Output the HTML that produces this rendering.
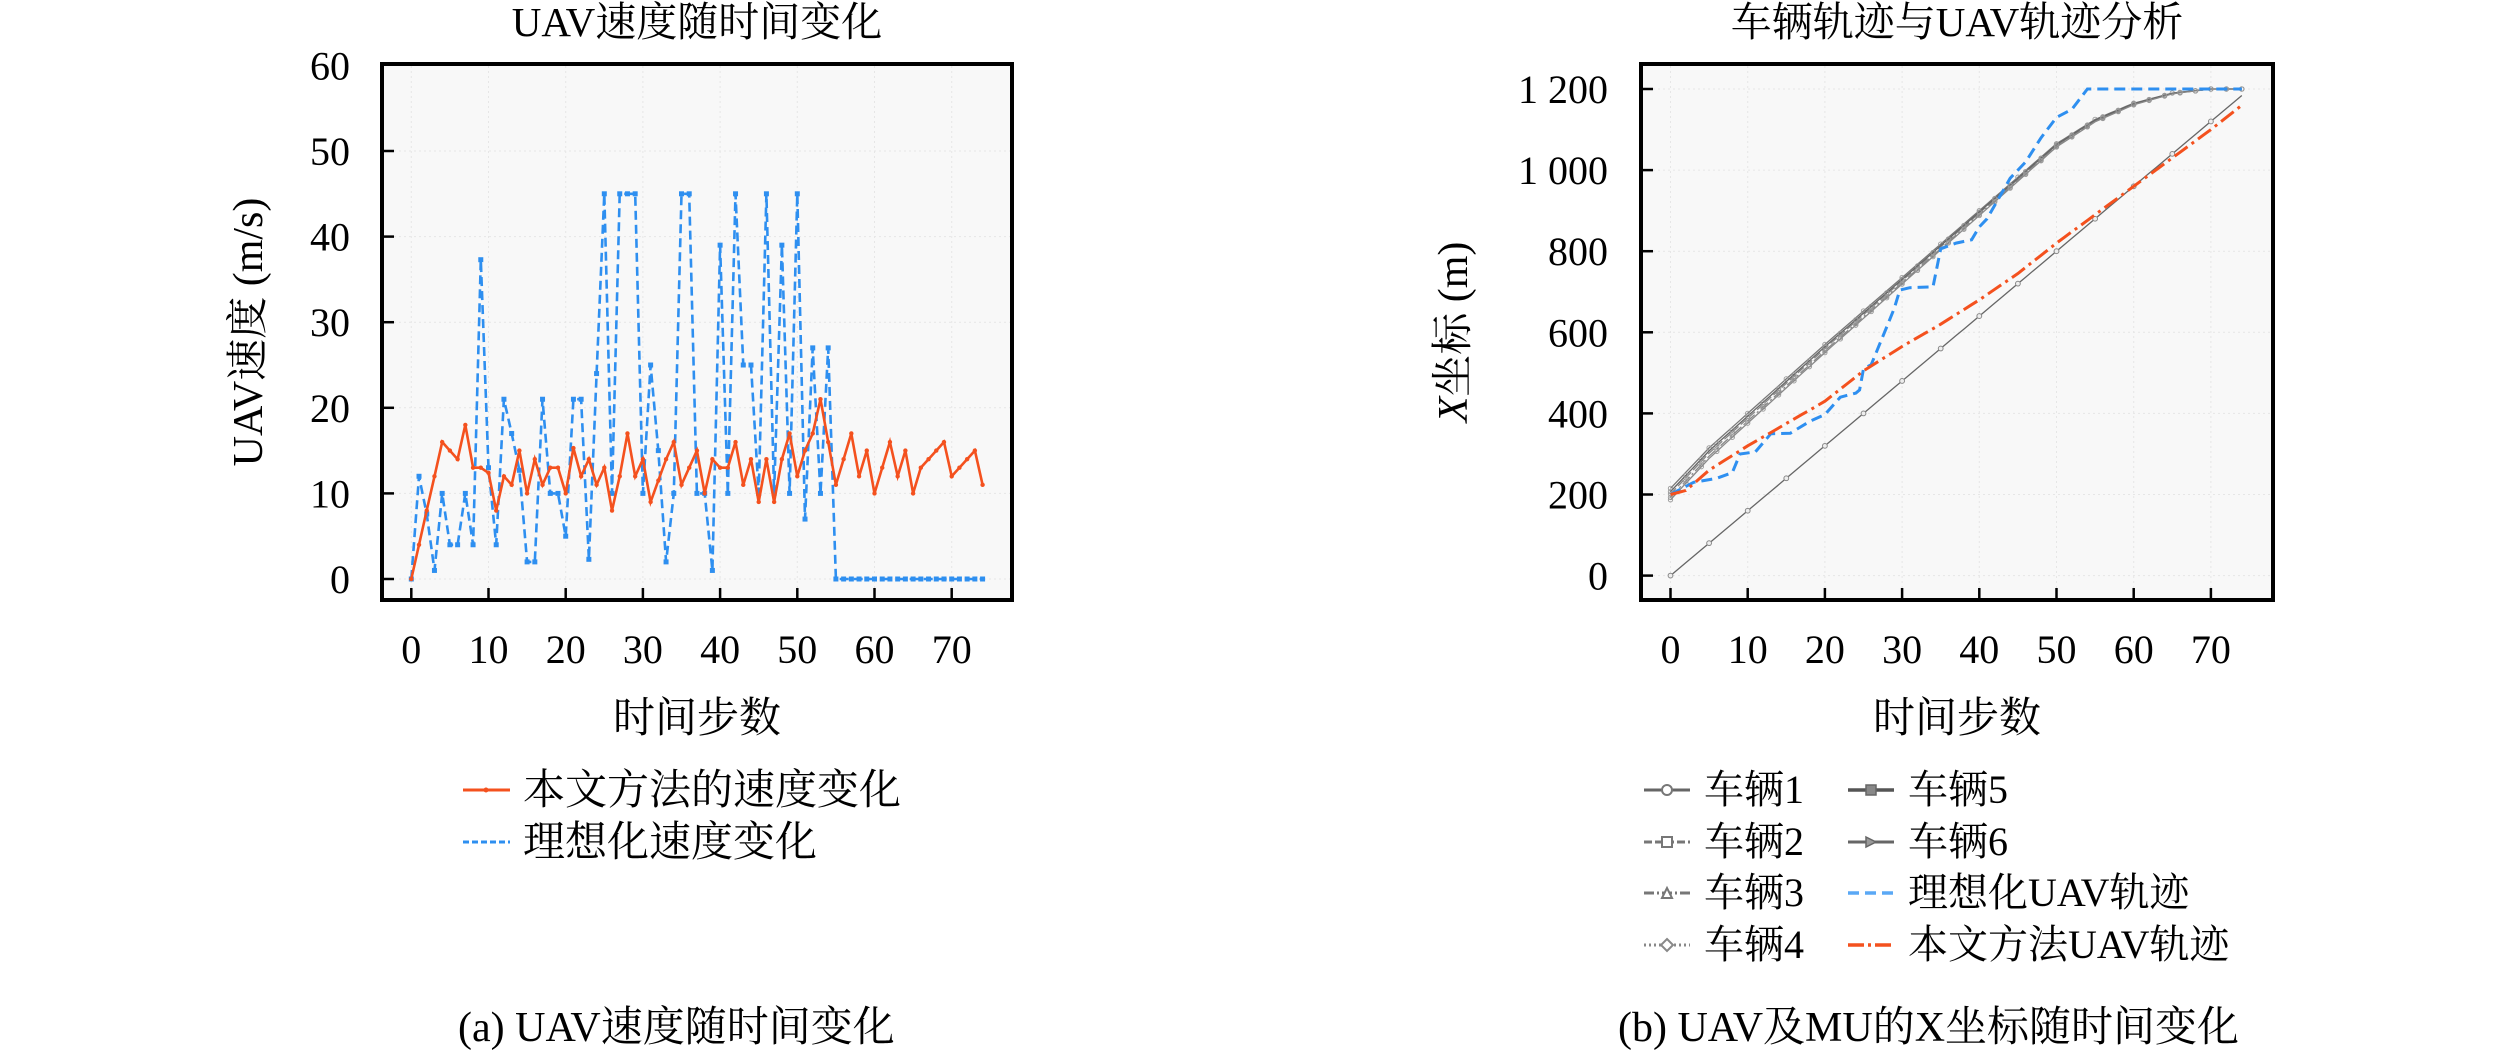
<!DOCTYPE html>
<html><head><meta charset="utf-8">
<style>
html,body{margin:0;padding:0;background:#fff;}
svg{display:block;}
text{font-family:"Liberation Serif","Noto Serif CJK SC","Noto Sans CJK SC",serif;fill:#000;}
</style></head>
<body>
<svg id="s" width="2520" height="1050" viewBox="0 0 2520 1050" xmlns="http://www.w3.org/2000/svg">
<rect x="0" y="0" width="2520" height="1050" fill="#fff"/>
<rect x="382" y="64" width="630" height="536" fill="#f8f8f8"/>
<g id="lgrid" stroke="#e6e6e6" stroke-width="1" stroke-dasharray="2,3"></g>
<g id="lplot"></g>
<rect x="382" y="64" width="630" height="536" fill="none" stroke="#000" stroke-width="4"/>
<g id="lticks" stroke="#000" stroke-width="2.5"></g>
<g id="llabels" font-size="40"></g>
<text x="697" y="36" font-size="41" text-anchor="middle">UAV速度随时间变化</text>
<text x="697" y="732" font-size="42" text-anchor="middle">时间步数</text>
<text transform="translate(262,332) rotate(-90)" font-size="42" text-anchor="middle">UAV速度 (m/s)</text>
<line x1="463" y1="790" x2="510" y2="790" stroke="#f4511e" stroke-width="3"/>
<circle cx="486" cy="790" r="2.5" fill="#f4511e"/>
<text x="523" y="804" font-size="42">本文方法的速度变化</text>
<line x1="463" y1="842" x2="510" y2="842" stroke="#2e8ff0" stroke-width="3" stroke-dasharray="6,3"/>
<text x="523" y="856" font-size="42">理想化速度变化</text>
<text x="458" y="1041" font-size="42">(a) UAV速度随时间变化</text>

<rect x="1641" y="64" width="632" height="536" fill="#f8f8f8"/>
<g id="rgrid" stroke="#e6e6e6" stroke-width="1" stroke-dasharray="2,3"></g>
<g id="rplot"></g>
<rect x="1641" y="64" width="632" height="536" fill="none" stroke="#000" stroke-width="4"/>
<g id="rticks" stroke="#000" stroke-width="2.5"></g>
<g id="rlabels" font-size="40"></g>
<text x="1957" y="36" font-size="41" text-anchor="middle">车辆轨迹与UAV轨迹分析</text>
<text x="1957" y="732" font-size="42" text-anchor="middle">时间步数</text>
<text transform="translate(1467,332) rotate(-90)" font-size="42" text-anchor="middle"><tspan font-style="italic">X</tspan>坐标 (m)</text>
<g font-size="40">
<line x1="1644" y1="790" x2="1690" y2="790" stroke="#666" stroke-width="3"/><circle cx="1667" cy="790" r="5" fill="#fff" stroke="#777" stroke-width="2"/>
<text x="1704" y="803">车辆1</text>
<line x1="1644" y1="842" x2="1690" y2="842" stroke="#777" stroke-width="3" stroke-dasharray="8,3"/><rect x="1662" y="837" width="10" height="10" fill="#fff" stroke="#777" stroke-width="2"/>
<text x="1704" y="855">车辆2</text>
<line x1="1644" y1="893" x2="1690" y2="893" stroke="#777" stroke-width="3" stroke-dasharray="10,3,2,3"/><path d="M1662,898 L1667,888 L1672,898Z" fill="#fff" stroke="#777" stroke-width="2"/>
<text x="1704" y="906">车辆3</text>
<line x1="1644" y1="945" x2="1690" y2="945" stroke="#888" stroke-width="3" stroke-dasharray="2,3"/><path d="M1667,939 L1673,945 L1667,951 L1661,945Z" fill="#fff" stroke="#888" stroke-width="2"/>
<text x="1704" y="958">车辆4</text>
<line x1="1848" y1="790" x2="1894" y2="790" stroke="#555" stroke-width="3.5"/><rect x="1866" y="785" width="10" height="10" fill="#888" stroke="#666" stroke-width="1.5"/>
<text x="1908" y="803">车辆5</text>
<line x1="1848" y1="842" x2="1894" y2="842" stroke="#666" stroke-width="3"/><path d="M1866,837 L1876,842 L1866,847Z" fill="#999" stroke="#666" stroke-width="1.5"/>
<text x="1908" y="855">车辆6</text>
<line x1="1848" y1="893" x2="1894" y2="893" stroke="#5aa8f5" stroke-width="3.5" stroke-dasharray="11,6"/>
<text x="1908" y="906">理想化UAV轨迹</text>
<line x1="1848" y1="945" x2="1894" y2="945" stroke="#f4511e" stroke-width="3.5" stroke-dasharray="16,4,3,4"/>
<text x="1908" y="958">本文方法UAV轨迹</text>
</g>
<text x="1618" y="1041" font-size="42">(b) UAV及MU的X坐标随时间变化</text>
</svg>
<script>
var NS="http://www.w3.org/2000/svg";
function el(p,tag,a,txt){var e=document.createElementNS(NS,tag);for(var k in a)e.setAttribute(k,a[k]);if(txt!==undefined)e.textContent=txt;document.getElementById(p).appendChild(e);return e;}
function lx(t){return 411.3+7.72*t;}
function ly(v){return 579-8.56*v;}
for(var t=0;t<=70;t+=10){
 el("lgrid","line",{x1:lx(t),y1:66,x2:lx(t),y2:598});
 el("lticks","line",{x1:lx(t),y1:600,x2:lx(t),y2:588});
 el("llabels","text",{x:lx(t),y:663,"text-anchor":"middle"},String(t));
}
for(var v=0;v<=60;v+=10){
 el("lgrid","line",{x1:384,y1:ly(v),x2:1010,y2:ly(v)});
 if(v<60)el("lticks","line",{x1:382,y1:ly(v),x2:394,y2:ly(v)});
 el("llabels","text",{x:350,y:ly(v)+14,"text-anchor":"end"},String(v));
}
var blue=[0,12,7.6,1,10,4,4,10,4,37.3,13,4,21,17,12.7,2,2,21,10,10,5,21,21,2.3,24,45,10,45,45,45,10,25,15,2,10,45,45,10,10,1,39,10,45,25,25,10,45,10,39,10,45,7,27,10,27,0];
for(var i=56;i<=74;i++)blue.push(0);
var org=[0,4,8,12,16,15,14,18,13,13,12.4,8,12,11,15,10,14,11,13,13,10,15.3,12,14,11,13,8,12,17,12,14,9,11.5,14,16,11,13,15,10,14,13,13,16,11,14,9,14,9,14,17,12,15,17,21,16,11,14,17,12,15,10,13,16,12,15,10,13,14,15,16,12,13,14,15,11];
function pts(arr,fx,fy){return arr.map(function(v,i){return fx(i).toFixed(1)+","+fy(v).toFixed(1);}).join(" ");}
el("lplot","polyline",{points:pts(blue,lx,ly),fill:"none",stroke:"#2e8ff0","stroke-width":2.6,"stroke-dasharray":"9,5"});
blue.forEach(function(v,i){el("lplot","rect",{x:lx(i)-2.5,y:ly(v)-2.5,width:5,height:5,fill:"#2e8ff0"});});
el("lplot","polyline",{points:pts(org,lx,ly),fill:"none",stroke:"#f4511e","stroke-width":2.6});
org.forEach(function(v,i){el("lplot","circle",{cx:lx(i),cy:ly(v),r:2.2,fill:"#f4511e"});});
function rx(t){return 1670.5+7.72*t;}
function ry(v){return 575.6-0.4055*v;}
for(var t=0;t<=70;t+=10){
 el("rgrid","line",{x1:rx(t),y1:66,x2:rx(t),y2:598});
 el("rticks","line",{x1:rx(t),y1:600,x2:rx(t),y2:588});
 el("rlabels","text",{x:rx(t),y:663,"text-anchor":"middle"},String(t));
}
var ylab={0:"0",200:"200",400:"400",600:"600",800:"800",1000:"1 000",1200:"1 200"};
for(var v=0;v<=1200;v+=200){
 el("rgrid","line",{x1:1643,y1:ry(v),x2:2271,y2:ry(v)});
 el("rticks","line",{x1:1641,y1:ry(v),x2:1653,y2:ry(v)});
 el("rlabels","text",{x:1608,y:ry(v)+14,"text-anchor":"end"},ylab[v]);
}
function interp(keys,t){for(var i=0;i<keys.length-1;i++){if(t<=keys[i+1][0]){var a=keys[i],b=keys[i+1];return a[1]+(b[1]-a[1])*(t-a[0])/(b[0]-a[0]);}}return keys[keys.length-1][1];}
var veh=[[0,215],[5,315],[10,400],[20,570],[30,735],[40,900],[50,1065],[55,1125],[60,1165],[65,1190],[70,1200],[74,1200]];
var offs=[0,-14,-22,-8,-28];
var styles=[{s:"#777",d:""},{s:"#888",d:"8,3"},{s:"#888",d:"10,3,2,3"},{s:"#666",d:""},{s:"#888",d:""}];
offs.forEach(function(o,k){
 var a=[];for(var t=0;t<=74;t++){var v=interp(veh,t);var f=Math.max(0,1-t/70);a.push(v+o*f);}
 var attrs={points:pts(a,rx,ry),fill:"none",stroke:styles[k].s,"stroke-width":1.3};
 if(styles[k].d)attrs["stroke-dasharray"]=styles[k].d;
 el("rplot","polyline",attrs);
 for(var t=0;t<=74;t+=(k==0?5:2)){el("rplot","circle",{cx:rx(t),cy:ry(a[t]),r:2.2,fill:"none",stroke:"#999","stroke-width":0.9});}
});
var v4=[];for(var t=0;t<=74;t++)v4.push(16*t);
el("rplot","polyline",{points:pts(v4,rx,ry),fill:"none",stroke:"#666","stroke-width":1.3});
for(var t=0;t<=74;t+=5)el("rplot","circle",{cx:rx(t),cy:ry(v4[t]),r:2.4,fill:"#eee",stroke:"#888","stroke-width":1});
var ideal=[[0,200],[3,230],[6,240],[8,254],[9,300],[11,305],[13,350],[15.5,351],[18,380],[20,397],[22,440],[24,450],[24.5,458],[25,510],[26,520],[28.2,622],[29,660],[29.7,704],[31,710],[34,712],[35,806],[37,820],[39,828],[40,860],[41,880],[44,980],[46,1020],[48,1080],[50,1130],[52,1150],[54,1200],[74,1200]];
var ip=ideal.map(function(p){return rx(p[0]).toFixed(1)+","+ry(p[1]).toFixed(1);}).join(" ");
el("rplot","polyline",{points:ip,fill:"none",stroke:"#2e8ff0","stroke-width":3,"stroke-dasharray":"11,6"});
var om=[[0,200],[2,210],[5,260],[10,320],[15,375],[20,430],[25,505],[30,565],[35,620],[40,680],[45,745],[50,820],[55,890],[60,960],[65,1030],[70,1100],[74,1160]];
var op=[];for(var t=0;t<=74;t++)op.push(interp(om,t));
el("rplot","polyline",{points:pts(op,rx,ry),fill:"none",stroke:"#f4511e","stroke-width":3,"stroke-dasharray":"16,5,3,5"});
</script>
</body></html>
